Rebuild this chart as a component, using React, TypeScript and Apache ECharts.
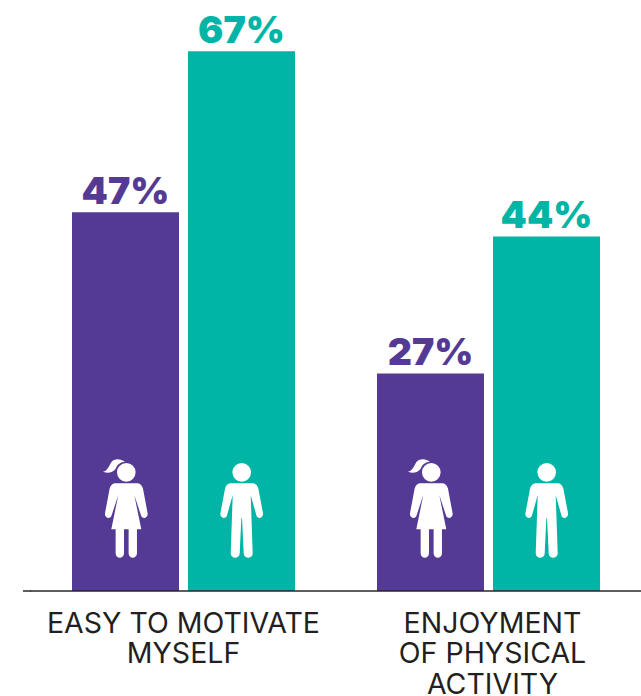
import React, { useEffect, useRef } from "react";
import * as echarts from "echarts";

const categories = ["EASY TO MOTIVATE\nMYSELF", "ENJOYMENT\nOF PHYSICAL\nACTIVITY"];
const girls = [47, 27];
const boys = [67, 44];

const PURPLE = "#553a95";
const TEAL = "#00b5a6";
const INK = "#231f20";

const girlPath =
  "M-28 97a28 28 0 1 0 56 0a28 28 0 1 0 -56 0Z " +
  "M-4 66C-16 56 -36 54 -46 68C-52 78 -56 92 -70 95C-50 103 -35 95 -30 82C-26 72 -16 66 -4 66Z " +
  "M-30 130L30 130C42 130 47 136 50 146L64 220C66 234 48 240 44 226L24 165L45 268L32 268L32 340C32 358 7 358 7 340L7 268L-7 268L-7 340C-7 358 -32 358 -32 340L-32 268L-45 268L-24 165L-44 226C-48 240 -66 234 -64 220L-50 146C-47 136 -42 130 -30 130Z";
const boyPath =
  "M-28 97a28 28 0 1 0 56 0a28 28 0 1 0 -56 0Z " +
  "M-30 130L30 130C42 130 47 136 50 146L64 220C66 234 48 240 44 226L27 165L33 340C33 358 6 358 6 340L1 235L-1 235L-6 340C-6 358 -33 358 -33 340L-27 165L-44 226C-48 240 -66 234 -64 220L-50 146C-47 136 -42 130 -30 130Z";

echarts.graphic.registerShape("girlIcon", echarts.graphic.extendPath(girlPath, {}));
echarts.graphic.registerShape("boyIcon", echarts.graphic.extendPath(boyPath, {}));

const icon = (type: string, x: number) => ({
  type,
  x,
  y: 440,
  scaleX: 1 / 3,
  scaleY: 1 / 3,
  z: 10,
  style: { fill: "#ffffff" },
});

export default function App() {
  const ref = useRef<HTMLDivElement>(null);
  useEffect(() => {
    const chart = echarts.init(ref.current!, undefined, { renderer: "svg" });
    const valueLabel = (color: string) => ({
      show: true,
      position: "top" as const,
      distance: 3,
      formatter: "{c}%",
      color,
      fontFamily: "Inter",
      fontWeight: 900,
      fontSize: 37.5,
    });
    chart.setOption({
      animation: false,
      backgroundColor: "#ffffff",
      grid: { left: 31, right: 0, top: 27, bottom: 105, outerBoundsMode: "none", containLabel: false },
      xAxis: {
        type: "category",
        z: 5,
        data: [
          categories[0],
          { value: categories[1], textStyle: { padding: [0, 0, 0, 8] } },
        ],
        axisTick: { show: false },
        axisLine: { lineStyle: { color: "rgba(35,31,32,0.72)", width: 2 } },
        axisLabel: {
          interval: 0,
          margin: 16,
          color: INK,
          fontFamily: "Inter",
          fontWeight: 400,
          fontSize: 28.5,
          lineHeight: 30.5,
          hideOverlap: false,
        },
      },
      yAxis: { type: "value", min: 0, max: 70, show: false, splitLine: { show: false } },
      series: [
        {
          name: "Girls",
          type: "bar",
          data: girls,
          barWidth: 107,
          barGap: "8.4%",
          itemStyle: { color: PURPLE },
          label: valueLabel(PURPLE),
        },
        {
          name: "Boys",
          type: "bar",
          data: boys,
          barWidth: 107,
          itemStyle: { color: TEAL },
          label: valueLabel(TEAL),
        },
      ],
      graphic: [
        {
          type: "line",
          shape: { x1: 23, y1: 591, x2: 31, y2: 591 },
          style: { stroke: "rgba(35,31,32,0.72)", lineWidth: 2 },
        },
        icon("girlIcon", 126.3),
        icon("boyIcon", 241.7),
        icon("girlIcon", 431.3),
        icon("boyIcon", 546.7),
      ],
    });
    return () => chart.dispose();
  }, []);
  return <div ref={ref} style={{ position: "absolute", left: 0, top: 0, width: 641, height: 696 }} />;
}
